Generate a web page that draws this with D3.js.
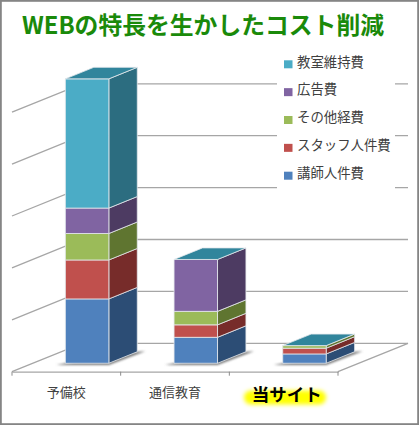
<!DOCTYPE html>
<html>
<head>
<meta charset="utf-8">
<script src="https://cdn.jsdelivr.net/npm/d3@7/dist/d3.min.js"></script>
<style>
  html, body { margin: 0; padding: 0; background: #fff; }
  svg { display: block; font-family: "Noto Sans CJK JP", sans-serif; }
</style>
</head>
<body>
<svg width="419" height="425"></svg>
<script>
const categories = ['予備校', '通信教育', '当サイト'];
const seriesNames = ['講師人件費', 'スタッフ人件費', 'その他経費', '広告費', '教室維持費'];
const lecturer = [124, 50, 18];
const staff = [75, 24, 11];
const other = [51, 26, 5];
const ads = [49, 100, 0];
const room = [249, 0, 0];
const yTicks = [0, 100, 200, 300, 400, 500];

const frontColors = ['#4f81bd', '#c0504d', '#9bbb59', '#8064a2', '#4bacc6'];
const sideColors = ['#2c4d75', '#772c2a', '#5f7530', '#4d3b62', '#2c6d80'];
const topColor = '#31859c';

const allValues = [lecturer, staff, other, ads, room];
const rows = categories.map((c, i) => {
  const r = { category: c };
  seriesNames.forEach((s, j) => { r[s] = allValues[j][i]; });
  return r;
});
const stacked = d3.stack().keys(seriesNames)(rows);

const svg = d3.select('svg');

// frame
svg.append('rect').attr('x', 0.9).attr('y', 0.9).attr('width', 417.2).attr('height', 423.2)
  .attr('fill', '#fff').attr('stroke', '#858585').attr('stroke-width', 1.8);

const defs = svg.append('defs');
defs.append('filter').attr('id', 'soft').attr('x', '-30%').attr('y', '-100%').attr('width', '160%').attr('height', '300%')
  .append('feGaussianBlur').attr('stdDeviation', 1.1);
defs.append('filter').attr('id', 'glow').attr('x', '-30%').attr('y', '-100%').attr('width', '160%').attr('height', '300%')
  .append('feGaussianBlur').attr('stdDeviation', 2.2);

// 3d projection
const floorY = 371.7;
const depthX = 70, depthY = -28.4;
const xBand = d3.scaleBand().domain(categories).range([12, 338]);
const yScale = d3.scaleLinear().domain([0, 500]).range([0, -259.5]);
const pt = (x, v, z) => [x + z * depthX, floorY + yScale(v) + z * depthY];
const poly = pts => pts.map(p => p.join(',')).join(' ');

// walls and floor lines
const grid = svg.append('g').attr('fill', 'none').attr('stroke', '#a6a6a6').attr('stroke-width', 1.3);
yTicks.forEach(t => {
  grid.append('polyline').attr('points', poly([pt(12, t, 0), pt(12, t, 1), pt(338, t, 1)]));
});
grid.append('polyline').attr('points', poly([pt(338, 0, 1), pt(338, 0, 0)]));

// x axis
const glowLayer = svg.append('g');
glowLayer.append('rect')
  .attr('x', 244).attr('y', 390.5).attr('width', 82).attr('height', 14).attr('rx', 7)
  .attr('fill', '#ffff00').attr('filter', 'url(#glow)');

const axis = svg.append('g').attr('transform', `translate(0,${floorY})`)
  .call(d3.axisBottom(xBand).tickSize(0));
axis.select('.domain').attr('stroke', '#a6a6a6').attr('stroke-width', 1.3);
axis.selectAll('.tick text')
  .attr('y', 21)
  .attr('dy', '0.32em')
  .attr('font-size', 13)
  .attr('font-family', '"Noto Sans CJK JP", sans-serif')
  .attr('fill', '#404040');
svg.selectAll('.xmark').data([...categories.map(c => xBand(c)), 338]).join('line')
  .attr('x1', d => d).attr('x2', d => d)
  .attr('y1', floorY).attr('y2', floorY + 4)
  .attr('stroke', '#8c8c8c');

// highlighted category
axis.selectAll('.tick').filter(d => d === '当サイト').select('text')
  .attr('font-size', 17.5).attr('font-weight', 700).attr('fill', '#000')
  .attr('x', 3).attr('y', 23.5);

// bars
const barZ0 = 0.297, barZ1 = 0.703;
const barW = xBand.bandwidth() * 0.4;
const bars = svg.append('g');

categories.forEach((c, i) => {
  const x0 = xBand(c) + (xBand.bandwidth() - barW) / 2;
  const x1 = x0 + barW;
  const total = d3.sum(allValues, a => a[i]);

  // floor shadow
  bars.append('polygon')
    .attr('points', poly([
      [x0 + barZ0 * depthX - 9, floorY + barZ0 * depthY + 1.8],
      [x1 + barZ0 * depthX, floorY + barZ0 * depthY + 1.8],
      [x1 + barZ1 * depthX + 8, floorY + barZ1 * depthY - 0.5],
      pt(x1, 0, barZ1),
      pt(x0, 0, barZ0)
    ]))
    .attr('fill', '#7c7c7c').attr('filter', 'url(#soft)');

  stacked.forEach((layer, j) => {
    const [lo, hi] = layer[i];
    if (hi - lo <= 0) return;
    bars.append('polygon')
      .attr('points', poly([pt(x1, lo, barZ0), pt(x1, lo, barZ1), pt(x1, hi, barZ1), pt(x1, hi, barZ0)]))
      .attr('fill', sideColors[j]).attr('stroke', '#e4e8ec').attr('stroke-width', 0.8);
    bars.append('polygon')
      .attr('points', poly([pt(x0, lo, barZ0), pt(x1, lo, barZ0), pt(x1, hi, barZ0), pt(x0, hi, barZ0)]))
      .attr('fill', frontColors[j]).attr('stroke', '#e4e8ec').attr('stroke-width', 0.8);
  });

  bars.append('polygon')
    .attr('points', poly([pt(x0, total, barZ0), pt(x1, total, barZ0), pt(x1, total, barZ1), pt(x0, total, barZ1)]))
    .attr('fill', topColor).attr('stroke', '#e4e8ec').attr('stroke-width', 0.8);
});

// legend
const legendY = d3.scalePoint().domain(seriesNames.slice().reverse()).range([64.3, 175.7]);
const legend = svg.append('g');
legend.append('rect').attr('x', 277).attr('y', 50).attr('width', 118).attr('height', 145).attr('fill', '#fff');
const items = legend.selectAll('.item').data(seriesNames).join('g')
  .attr('transform', d => `translate(284,${legendY(d)})`);
items.append('rect').attr('y', -4).attr('width', 8.5).attr('height', 8)
  .attr('fill', (d, i) => frontColors[i]);
items.append('text').attr('x', 13).attr('y', -2).attr('dy', '0.32em')
  .attr('font-size', 13.4).attr('fill', '#404040').text(d => d);

// title
svg.append('text').attr('x', 22).attr('y', 34)
  .attr('font-size', 23.8).attr('font-weight', 700).attr('fill', '#1a8a0a')
  .text('WEBの特長を生かしたコスト削減');
</script>
</body>
</html>
